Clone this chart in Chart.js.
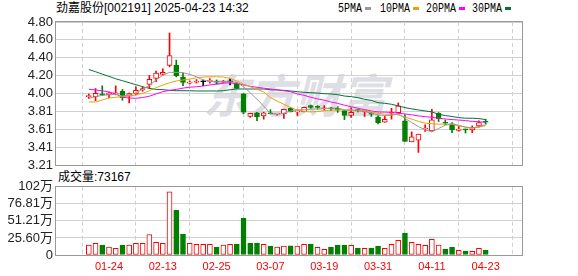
<!DOCTYPE html>
<html>
<head>
<meta charset="utf-8">
<script src="https://cdn.jsdelivr.net/npm/chart.js@4/dist/chart.umd.min.js"></script>
<style>
  body { margin: 0; width: 578px; height: 276px; overflow: hidden; position: relative; background: #fff;
         font-family: "Liberation Sans", "Noto Sans CJK SC", sans-serif; color: #000; }
  .txt { position: absolute; white-space: nowrap; font-size: 12px; line-height: 14px; }
  #title { left: 56px; top: 1px; }
  .lg { position: absolute; top: 2px; font-family: "Liberation Mono", monospace; font-size: 12px; line-height: 14px;
        transform: scaleX(0.83); transform-origin: 0 0; white-space: nowrap; }
  .sw { position: absolute; top: 7px; width: 6px; height: 3px; }
  #volTitle { left: 58px; top: 170px; }
  #mark { position: absolute; left: 203px; top: 60px; font-size: 46px; font-weight: bold; font-style: italic;
          color: #dedee5; font-family: "Noto Sans CJK SC", sans-serif; letter-spacing: 0px; }
  canvas { position: absolute; left: 0; }
  #price { top: 0; }
  #vol { top: 176px; }
</style>
</head>
<body>
<div id="mark">东方财富</div>
<div class="txt" id="title">劲嘉股份[002191] 2025-04-23 14:32</div>
<div class="lg" style="left:338px">5PMA</div><div class="sw" style="left:365px;background:#999"></div>
<div class="lg" style="left:380px">10PMA</div><div class="sw" style="left:413px;background:#f0a000"></div>
<div class="lg" style="left:426px">20PMA</div><div class="sw" style="left:459px;background:#ff00ff"></div>
<div class="lg" style="left:472px">30PMA</div><div class="sw" style="left:505px;background:#00733a"></div>
<div class="txt" id="volTitle">成交量:73167</div>
<canvas id="price" width="578" height="176"></canvas>
<canvas id="vol" width="578" height="100"></canvas>
<script>
// trading days shown (MM-DD)
const dates = ['01-21','01-22','01-23','01-24','01-27','02-05','02-06','02-07','02-10','02-11',
  '02-12','02-13','02-14','02-17','02-18','02-19','02-20','02-21','02-24','02-25',
  '02-26','02-27','02-28','03-03','03-04','03-05','03-06','03-07','03-10','03-11',
  '03-12','03-13','03-14','03-17','03-18','03-19','03-20','03-21','03-24','03-25',
  '03-26','03-27','03-28','03-31','04-01','04-02','04-03','04-07','04-08','04-09',
  '04-10','04-11','04-14','04-15','04-16','04-17','04-18','04-21','04-22','04-23'];
const tickDays = ['01-24','02-13','02-25','03-07','03-19','03-31','04-11','04-23'];

const open  = [3.97,3.97,3.995,3.99,4.00,4.03,3.975,4.00,4.045,4.107,
  4.173,4.217,4.317,4.32,4.184,4.12,4.13,4.136,4.14,4.14,
  4.13,4.135,4.117,4.00,3.749,3.79,3.756,3.785,3.775,3.778,
  3.84,3.80,3.804,3.87,3.855,3.835,3.84,3.84,3.815,3.76,
  3.82,3.804,3.78,3.741,3.685,3.785,3.793,3.70,3.468,3.487,
  3.61,3.59,3.785,3.68,3.667,3.595,3.605,3.60,3.645,3.69];
const high  = [4.00,4.06,4.09,4.02,4.09,4.05,4.01,4.08,4.08,4.206,
  4.254,4.28,4.678,4.376,4.236,4.145,4.16,4.155,4.17,4.155,
  4.15,4.17,4.125,4.005,3.786,3.797,3.797,3.825,3.785,3.83,
  3.85,3.81,3.855,3.877,3.87,3.87,3.85,3.86,3.815,3.845,
  3.83,3.82,3.795,3.76,3.75,3.84,3.90,3.767,3.578,3.553,
  3.656,3.83,3.793,3.71,3.682,3.64,3.61,3.645,3.70,3.72];
const low   = [3.95,3.925,3.98,3.96,3.99,3.93,3.90,3.99,4.03,4.06,
  4.136,4.21,4.302,4.19,4.092,4.11,4.12,4.092,4.12,4.11,
  4.125,4.10,4.06,3.782,3.74,3.704,3.72,3.778,3.763,3.727,
  3.80,3.76,3.80,3.84,3.83,3.82,3.815,3.795,3.715,3.738,
  3.80,3.749,3.75,3.668,3.685,3.72,3.785,3.472,3.468,3.35,
  3.583,3.59,3.693,3.656,3.57,3.585,3.565,3.57,3.63,3.664];
const close = [3.98,4.007,3.99,4.01,4.012,3.96,4.005,4.04,4.06,4.162,
  4.232,4.239,4.427,4.20,4.129,4.132,4.14,4.136,4.152,4.13,
  4.136,4.135,4.062,3.797,3.785,3.745,3.789,3.78,3.78,3.83,
  3.80,3.805,3.852,3.85,3.85,3.84,3.835,3.82,3.76,3.797,
  3.815,3.82,3.775,3.682,3.719,3.79,3.867,3.472,3.523,3.553,
  3.615,3.712,3.726,3.674,3.60,3.61,3.60,3.63,3.682,3.685];

const ma5  = [3.952,3.97,3.985,3.99,3.996,3.977,3.989,4.014,4.052,4.096,
  4.155,4.21,4.24,4.24,4.236,4.218,4.191,4.155,4.14,4.136,
  4.136,4.136,4.129,4.08,4.014,3.941,3.867,3.778,3.775,3.786,
  3.81,3.823,3.823,3.83,3.834,3.837,3.841,3.845,3.823,3.815,
  3.811,3.804,3.786,3.767,3.76,3.762,3.778,3.73,3.682,3.638,
  3.601,3.579,3.616,3.653,3.668,3.653,3.631,3.623,3.638,3.657];
const ma10 = [3.911,3.911,3.933,3.955,3.963,3.97,3.977,3.989,4.007,4.036,
  4.069,4.099,4.125,4.144,4.155,4.165,4.18,4.188,4.191,4.191,
  4.188,4.173,4.144,4.11,4.08,4.052,4.022,3.96,3.92,3.885,
  3.85,3.82,3.805,3.80,3.805,3.815,3.82,3.823,3.823,3.823,
  3.82,3.815,3.80,3.785,3.775,3.775,3.768,3.745,3.72,3.695,
  3.675,3.668,3.664,3.664,3.662,3.645,3.63,3.62,3.63,3.648];
const ma20 = [4.052,4.045,4.035,4.022,4.0,3.963,3.955,3.952,3.96,3.975,
  4.00,4.025,4.04,4.05,4.065,4.075,4.08,4.088,4.10,4.11,
  4.12,4.125,4.115,4.10,4.085,4.074,4.065,4.055,4.045,4.035,
  4.025,4.0,3.985,3.963,3.945,3.93,3.91,3.895,3.875,3.858,
  3.841,3.825,3.812,3.80,3.798,3.795,3.785,3.778,3.768,3.756,
  3.748,3.74,3.73,3.722,3.715,3.71,3.704,3.695,3.69,3.685];
const ma30 = [4.272,4.247,4.221,4.195,4.169,4.147,4.125,4.103,4.081,4.062,
  4.051,4.048,4.04,4.036,4.036,4.035,4.033,4.033,4.033,4.033,
  4.036,4.047,4.055,4.055,4.055,4.055,4.055,4.047,4.044,4.04,
  4.033,4.025,4.018,4.014,4.01,4.003,4.0,3.992,3.977,3.97,
  3.959,3.94,3.929,3.903,3.896,3.885,3.867,3.848,3.834,3.822,
  3.811,3.8,3.774,3.76,3.749,3.737,3.73,3.73,3.726,3.715];

// volume in 万, and whether the bar is drawn as a rising (red) day
const volume = [14.9,17.4,14.9,11.9,9.9,14.9,14.9,17.4,17.4,30.8,
  18.9,17.4,94.9,67.1,31.3,17.4,15.9,15.9,15.9,11.9,
  14.9,15.9,16.4,55.2,17.9,17.9,15.9,13.4,11.9,13.4,
  13.9,13.4,15.9,16.4,11.4,8.5,11.9,14.9,14.9,14.4,
  10.4,9.9,10.4,13.4,9.9,15.9,21.9,32.8,18.9,15.9,
  14.4,23.4,14.9,8.9,11.9,7.0,6.0,5.5,9.9,7.3167];
const volUp = [1,1,0,1,1,0,1,1,1,1, 1,1,1,0,0,1,1,1,1,0,
  1,1,0,0,0,0,1,0,1,1, 0,1,1,0,1,1,0,0,0,1,
  0,1,0,0,1,1,1,0,1,1, 1,1,1,0,0,1,0,1,1,0];

const priceTicks = ['3.21','3.41','3.61','3.81','4.00','4.20','4.40','4.60','4.80'];
const volTicks = [0, 25.6, 51.21, 76.81, 102.4];
const volTickLabels = ['0','25.60万','51.21万','76.81万','102万'];

const RED = '#ff0000', GREEN = '#008000', FLAT = '#000000';
const idx = dates.map((d, i) => i);
const candleColor = i => close[i] > open[i] ? RED : (close[i] < open[i] ? GREEN : FLAT);

const X_MIN = -0.55, X_MAX = 60.07;
const tickIdx = tickDays.map(d => dates.indexOf(d));

const frame = {
  id: 'frame',
  afterDraw(chart) {
    const { ctx, chartArea: a } = chart;
    ctx.save();
    ctx.strokeStyle = '#999';
    ctx.lineWidth = 1;
    ctx.strokeRect(Math.round(a.left) - 0.5, Math.round(a.top) - 0.5,
      Math.round(a.right - a.left) + 1, Math.round(a.bottom - a.top) + 1);
    ctx.restore();
  }
};

function xScale(showLabels) {
  return {
    type: 'linear', min: X_MIN, max: X_MAX,
    afterBuildTicks: s => { s.ticks = tickIdx.map(v => ({ value: v })); },
    afterFit: s => { s.height = showLabels ? 21 : 0; },
    grid: { color: '#d0d0d0', drawTicks: false },
    border: { display: false, dash: [4, 3] },
    ticks: {
      display: showLabels, color: '#ff0000', padding: 5, maxRotation: 0, autoSkip: false,
      font: { family: 'Liberation Sans', size: 11 },
      callback: v => dates[v]
    }
  };
}

Chart.defaults.font.family = '"Liberation Sans", "Noto Sans CJK SC", sans-serif';

new Chart(document.getElementById('price'), {
  data: {
    datasets: [
      { type: 'line', label: '5PMA', data: idx.map(i => ({ x: i, y: ma5[i] })), borderColor: '#999999', order: 1 },
      { type: 'line', label: '10PMA', data: idx.map(i => ({ x: i, y: ma10[i] })), borderColor: '#f0a000', order: 1 },
      { type: 'line', label: '20PMA', data: idx.map(i => ({ x: i, y: ma20[i] })), borderColor: '#ff00ff', order: 1 },
      { type: 'line', label: '30PMA', data: idx.map(i => ({ x: i, y: ma30[i] })), borderColor: '#00733a', order: 1 },
      {
        type: 'bar', label: 'body', order: 2,
        data: idx.map(i => ({ x: i, y: [open[i], close[i]] })),
        backgroundColor: idx.map(i => close[i] > open[i] ? '#ffffff' : candleColor(i)),
        borderColor: idx.map(candleColor), borderWidth: 1, borderSkipped: false,
        barThickness: 5, minBarLength: 1, grouped: false
      },
      {
        type: 'bar', label: 'wick', order: 3,
        data: idx.map(i => ({ x: i, y: [low[i], high[i]] })),
        backgroundColor: idx.map(candleColor), barThickness: 1, grouped: false
      }
    ]
  },
  options: {
    responsive: false, animation: false,
    layout: { padding: { top: 22, right: 56, bottom: 11, left: 0 } },
    elements: { line: { borderWidth: 1, tension: 0 }, point: { radius: 0 } },
    plugins: { legend: { display: false }, tooltip: { enabled: false } },
    scales: {
      x: xScale(false),
      y: {
        min: 3.21, max: 4.80,
        afterFit: s => { s.width = 56; },
        afterBuildTicks: s => { s.ticks = priceTicks.map((t, k) => ({ value: 3.21 + k * (4.80 - 3.21) / 8 })); },
        grid: { color: '#d0d0d0', drawTicks: false },
        border: { display: false },
        ticks: {
          padding: 3, color: '#222', font: { size: 13 }, autoSkip: false,
          callback: (v, k) => priceTicks[k]
        }
      }
    }
  },
  plugins: [frame]
});

new Chart(document.getElementById('vol'), {
  data: {
    datasets: [{
      type: 'bar', label: 'volume',
      data: idx.map(i => ({ x: i, y: volume[i] })),
      backgroundColor: idx.map(i => volUp[i] ? '#ffffff' : GREEN),
      borderColor: idx.map(i => volUp[i] ? RED : GREEN),
      borderWidth: 1, borderSkipped: false, barThickness: 5
    }]
  },
  options: {
    responsive: false, animation: false,
    layout: { padding: { top: 10, right: 56, bottom: 0, left: 0 } },
    plugins: { legend: { display: false }, tooltip: { enabled: false } },
    scales: {
      x: xScale(true),
      y: {
        min: 0, max: 102.4,
        afterFit: s => { s.width = 56; },
        afterBuildTicks: s => { s.ticks = volTicks.map(v => ({ value: v })); },
        grid: { color: '#d0d0d0', drawTicks: false },
        border: { display: false },
        ticks: {
          padding: 3, color: '#222', font: { size: 13 }, autoSkip: false,
          callback: (v, k) => volTickLabels[k]
        }
      }
    }
  },
  plugins: [frame]
});
</script>
</body>
</html>
